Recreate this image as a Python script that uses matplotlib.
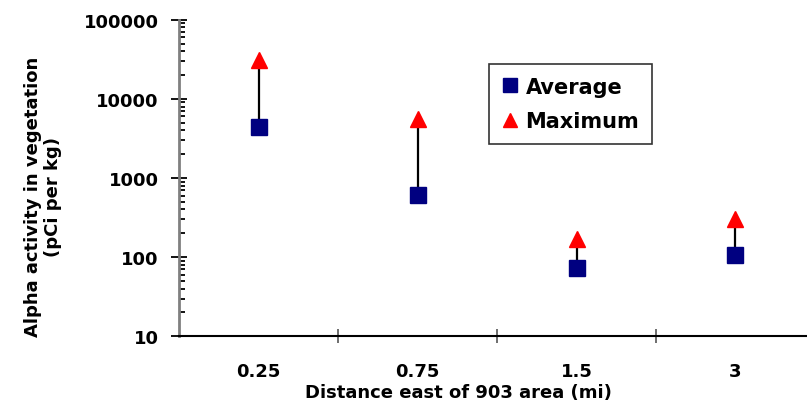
import matplotlib.pyplot as plt
import numpy as np
from matplotlib.ticker import FixedLocator, NullFormatter, LogLocator
from matplotlib.lines import Line2D

# values
distances = ['0.25', '0.75', '1.5', '3']
average = [4400, 604, 74, 108]
maximum = [31000, 5600, 171, 303]

plt.rcParams['font.family'] = ['DejaVu Sans']
plt.rcParams['font.weight'] = 'bold'

W, H = 807, 402
fig = plt.figure(figsize=(W / 100, H / 100), dpi=100)
left, right, top, bottom = 179, 815, 20.7, 337.3
ax = fig.add_axes([left / W, 1 - bottom / H, (right - left) / W, (bottom - top) / H])

x = np.arange(len(distances))

# connecting lines from average to maximum
ax.vlines(x, average, maximum, color='black', lw=1.6, zorder=2)
ax.plot(x, average, 's', color='#000080', ms=11.3, mec='#000080', zorder=3, clip_on=False)
ax.plot(x, maximum, '^', color='#ff0000', ms=11.5, mec='#ff0000', zorder=3, clip_on=False)

ax.set_yscale('log')
ax.set_ylim(10, 100000)
ax.set_xlim(-0.5, len(distances) - 0.5)

# y axis ticks
ax.yaxis.set_major_locator(FixedLocator([10, 100, 1000, 10000, 100000]))
ax.set_yticklabels(['10', '100', '1000', '10000', '100000'], fontsize=13, fontweight='bold')
ax.yaxis.set_minor_locator(LogLocator(base=10, subs=np.arange(2, 10)))
ax.yaxis.set_minor_formatter(NullFormatter())
ax.tick_params(axis='y', which='major', direction='inout', length=12, width=1.3, color='black', pad=8.5)
ax.tick_params(axis='y', which='minor', direction='in', length=4.5, width=1.3, color='black')

# x axis: ticks between categories, labels at centres
ax.xaxis.set_major_locator(FixedLocator([0.5, 1.5, 2.5]))
ax.xaxis.set_major_formatter(NullFormatter())
ax.xaxis.set_minor_locator(FixedLocator(x))
ax.set_xticklabels(distances, minor=True, fontsize=13, fontweight='bold')
ax.tick_params(axis='x', which='major', direction='inout', length=10, width=1.2, color='#555555')
ax.tick_params(axis='x', which='minor', length=0, pad=18.7)

for side in ['top', 'right']:
    ax.spines[side].set_visible(False)
ax.spines['left'].set_color('#808080')
ax.spines['left'].set_linewidth(2)
ax.spines['bottom'].set_color('black')
ax.spines['bottom'].set_linewidth(1.5)

ax.set_xlabel('Distance east of 903 area (mi)', fontsize=13, fontweight='bold', labelpad=0)
ax.xaxis.set_label_coords((458 - left) / (right - left), -(398 - bottom) / (bottom - top), transform=ax.transAxes)
ax.xaxis.label.set_va('baseline')

fig.text(43 / W, 1 - 197 / H, 'Alpha activity in vegetation\n(pCi per kg)', rotation=90,
         ha='center', va='center', multialignment='center', fontsize=13, fontweight='bold',
         linespacing=1.2)

handles = [
    Line2D([], [], marker='s', color='#000080', ls='none', ms=10),
    Line2D([], [], marker='^', color='#ff0000', ls='none', ms=10),
]
leg = fig.legend(handles, ['Average', 'Maximum'], loc='upper left',
                 bbox_to_anchor=(489 / W, 1 - 65 / H), frameon=True, fancybox=False,
                 prop={'size': 15, 'weight': 'bold'}, handlelength=0.85, handletextpad=0.3,
                 borderpad=0.6, labelspacing=0.72, borderaxespad=0)
leg.get_frame().set_edgecolor('black')
leg.get_frame().set_linewidth(1.2)

fig.savefig('out.png', dpi=100)
